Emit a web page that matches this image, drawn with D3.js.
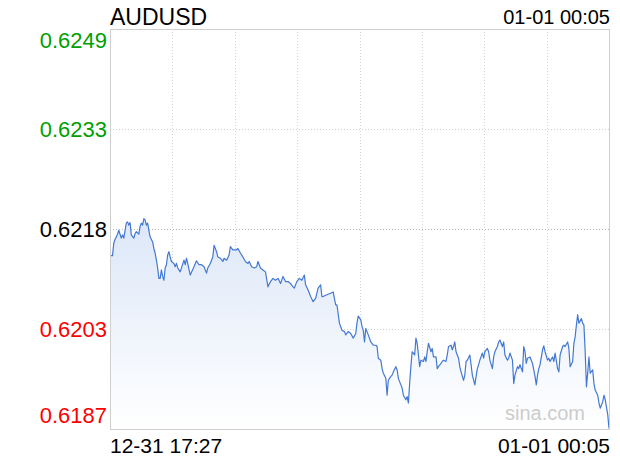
<!DOCTYPE html>
<html><head><meta charset="utf-8">
<script src="https://cdn.jsdelivr.net/npm/d3@7/dist/d3.min.js"></script>
<style>body{margin:0;background:#fff} svg{display:block} text{font-family:"Liberation Sans",Arial,Helvetica,sans-serif}</style>
</head><body><svg id="c" width="620" height="460"></svg>
<script>
const symbol = "AUDUSD";
const startLabel = "12-31 17:27";
const endLabel = "01-01 00:05";
const watermark = "sina.com";
const prevClose = 0.62180;
const yTickValues = [0.62488, 0.62334, 0.62180, 0.62026, 0.61872];
const yTickLabels = ["0.6249", "0.6233", "0.6218", "0.6203", "0.6187"];
const totalMinutes = 398;
// minutes since 12-31 17:27
const minutes = [0,2,3,4,6,7,9,10,11,13,14,15,16,17,19,20,21,23,24,25,26,27,28,29,30,31,32,34,35,36,37,38,39,40,41,42,43,44,45,46,47,48,49,51,52,53,54,56,59,60,61,62,64,67,69,71,73,75,77,78,80,82,83,85,86,88,90,91,93,95,96,98,101,102,104,106,108,110,111,113,115,117,118,120,122,124,126,128,130,132,134,136,138,140,142,144,146,147,149,151,153,155,156,158,160,162,164,166,168,169,170,172,176,178,180,181,183,185,187,188,190,192,194,196,197,198,200,201,202,203,204,206,208,210,212,213,214,216,217,218,220,221,222,224,225,226,228,229,230,232,233,234,236,237,238,239,240,241,243,244,245,247,248,250,251,252,253,254,256,257,258,260,261,262,264,265,266,268,269,270,272,273,274,275,276,278,279,280,282,283,284,285,287,288,289,291,292,293,294,295,297,298,299,301,302,303,305,306,307,309,310,311,313,314,315,317,318,319,321,322,323,325,326,327,329,330,331,332,333,335,336,337,339,340,341,342,343,345,346,347,349,350,351,353,354,355,357,358,359,361,362,363,365,366,367,369,370,371,372,373,374,376,377,378,379,380,381,382,383,385,386,387,389,390,391,393,394,395,397,398];
const prices = [0.62139,0.62139,0.62158,0.62164,0.62172,0.62178,0.62166,0.62171,0.62166,0.62189,0.62191,0.62186,0.62190,0.62171,0.62166,0.62173,0.62176,0.62172,0.62184,0.62189,0.62186,0.62196,0.62194,0.62186,0.62189,0.62178,0.62168,0.62160,0.62150,0.62143,0.62132,0.62120,0.62104,0.62104,0.62117,0.62107,0.62101,0.62120,0.62125,0.62140,0.62145,0.62137,0.62130,0.62127,0.62122,0.62127,0.62120,0.62114,0.62132,0.62125,0.62135,0.62127,0.62109,0.62122,0.62131,0.62125,0.62125,0.62122,0.62112,0.62120,0.62127,0.62137,0.62155,0.62145,0.62137,0.62135,0.62130,0.62135,0.62132,0.62140,0.62153,0.62148,0.62148,0.62150,0.62143,0.62137,0.62130,0.62127,0.62130,0.62122,0.62120,0.62122,0.62130,0.62120,0.62117,0.62114,0.62091,0.62099,0.62104,0.62101,0.62104,0.62096,0.62107,0.62099,0.62099,0.62096,0.62091,0.62089,0.62099,0.62104,0.62101,0.62109,0.62094,0.62086,0.62076,0.62068,0.62073,0.62089,0.62094,0.62076,0.62076,0.62078,0.62081,0.62083,0.62063,0.62063,0.62035,0.62024,0.62022,0.62017,0.62022,0.62019,0.62012,0.62019,0.62035,0.62046,0.62040,0.62030,0.62024,0.62006,0.62027,0.62017,0.62006,0.62001,0.62001,0.61999,0.61981,0.61978,0.61965,0.61958,0.61950,0.61924,0.61947,0.61953,0.61955,0.61960,0.61968,0.61963,0.61950,0.61940,0.61935,0.61924,0.61917,0.61922,0.61912,0.61942,0.61968,0.61991,0.61986,0.62012,0.62004,0.61968,0.61978,0.61976,0.61983,0.61976,0.61991,0.62004,0.61991,0.61996,0.61983,0.61983,0.61965,0.61968,0.61973,0.61976,0.61978,0.61976,0.61986,0.61999,0.62001,0.61994,0.61999,0.62006,0.61991,0.61981,0.61968,0.61960,0.61947,0.61955,0.61976,0.61978,0.61986,0.61971,0.61955,0.61940,0.61953,0.61965,0.61971,0.61978,0.61989,0.61981,0.61991,0.61996,0.61991,0.61978,0.61965,0.61983,0.61991,0.61999,0.62006,0.62009,0.61999,0.62006,0.61986,0.61978,0.61981,0.61989,0.61978,0.61942,0.61955,0.61968,0.61965,0.61971,0.61960,0.61999,0.61991,0.61973,0.61981,0.61983,0.61978,0.61973,0.61953,0.61940,0.61955,0.61965,0.61971,0.61994,0.62000,0.61991,0.61978,0.61981,0.61976,0.61983,0.61976,0.61989,0.61965,0.61960,0.61986,0.61999,0.62001,0.61999,0.62006,0.61996,0.61968,0.61976,0.62004,0.62014,0.62032,0.62048,0.62035,0.62042,0.62035,0.62032,0.61991,0.61937,0.61958,0.61983,0.61958,0.61963,0.61942,0.61932,0.61924,0.61912,0.61904,0.61914,0.61924,0.61917,0.61894,0.61873];

const data = minutes.map((m, i) => ({m, p: prices[i]}));
const svg = d3.select("#c");
const L = 110, R = 609, T = 29, B = 429;
const x = d3.scaleLinear().domain([0, totalMinutes]).range([L, R]);
const y = d3.scaleLinear().domain([yTickValues[4], yTickValues[0]]).range([B, T]);

const defs = svg.append("defs");
const g = defs.append("linearGradient").attr("id", "fill").attr("gradientUnits", "userSpaceOnUse")
  .attr("x1", 0).attr("x2", 0).attr("y1", y(d3.max(prices))).attr("y2", B);
g.append("stop").attr("offset", 0).attr("stop-color", "#dce7f8");
g.append("stop").attr("offset", 1).attr("stop-color", "#ffffff");

// vertical grid
const vg = d3.range(1, 8).map(i => totalMinutes * i / 8);
svg.append("g").selectAll("line").data(vg).join("line")
  .attr("x1", d => Math.round(x(d)) + 0.5).attr("x2", d => Math.round(x(d)) + 0.5)
  .attr("y1", T).attr("y2", B)
  .attr("stroke", "#d6d6d6").attr("stroke-dasharray", "1,2");

// horizontal grid
svg.append("g").selectAll("line").data(yTickValues.slice(1, 4)).join("line")
  .attr("x1", L).attr("x2", R + 1)
  .attr("y1", d => Math.round(y(d)) + 0.5).attr("y2", d => Math.round(y(d)) + 0.5)
  .attr("stroke", d => d === prevClose ? "#b4b4b4" : "#d0d0d0").attr("stroke-dasharray", "1,2");

// area and line
svg.append("path").datum(data)
  .attr("d", d3.area().x(d => x(d.m)).y0(B).y1(d => y(d.p)))
  .attr("fill", "url(#fill)");
svg.append("path").datum(data)
  .attr("d", d3.line().x(d => x(d.m)).y(d => y(d.p)))
  .attr("fill", "none").attr("stroke", "#4378d2").attr("stroke-width", 1.2).attr("stroke-linejoin", "round");

// frame
svg.append("rect").attr("x", L + 0.5).attr("y", T + 0.5).attr("width", R - L).attr("height", B - T)
  .attr("fill", "none").attr("stroke", "#cfcfcf");

// watermark
svg.append("text").attr("x", 585).attr("y", 420).attr("text-anchor", "end")
  .attr("font-size", 20).attr("fill", "#cccccc").text(watermark);

// y labels
svg.append("g").selectAll("text").data(yTickValues).join("text")
  .attr("x", 107).attr("text-anchor", "end").attr("font-size", 22)
  .attr("y", (d, i) => i === 0 ? y(d) + 19 : (i === 4 ? y(d) - 6 : y(d) + 8))
  .attr("fill", d => d > prevClose ? "#00a000" : (d < prevClose ? "#ff0000" : "#000"))
  .text((d, i) => yTickLabels[i]);

// title and times
svg.append("text").attr("x", L).attr("y", 25).attr("font-size", 23).attr("fill", "#000").text(symbol);
svg.append("text").attr("x", 610).attr("y", 24).attr("text-anchor", "end").attr("font-size", 20).attr("fill", "#000").text(endLabel);
svg.append("text").attr("x", L).attr("y", 453).attr("font-size", 21).attr("fill", "#000").text(startLabel);
svg.append("text").attr("x", 610).attr("y", 453).attr("text-anchor", "end").attr("font-size", 21).attr("fill", "#000").text(endLabel);
</script></body></html>
